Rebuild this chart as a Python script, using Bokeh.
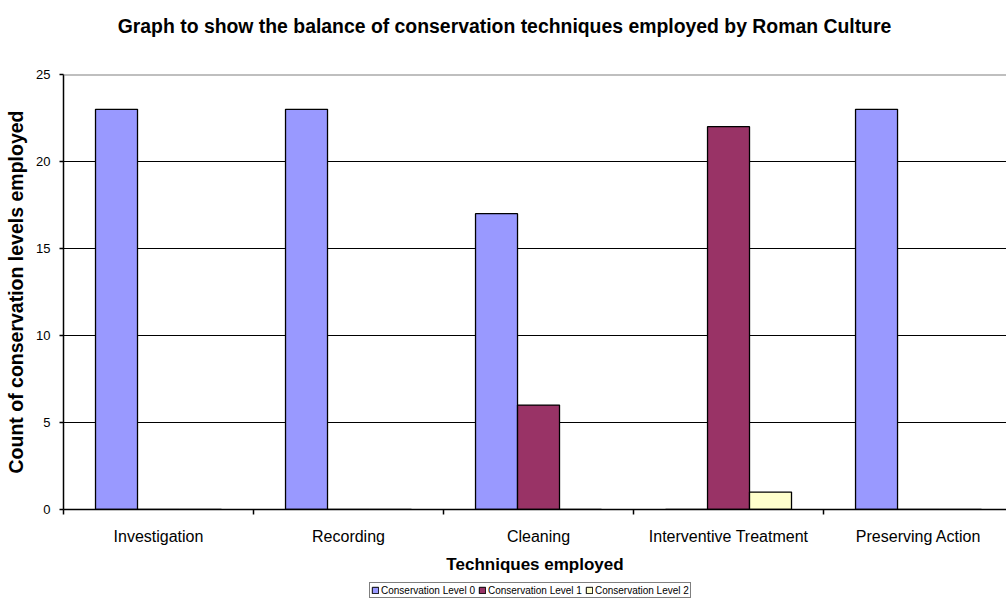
from bokeh.plotting import figure
from bokeh.layouts import column
from bokeh.models import (ColumnDataSource, FixedTicker, Range1d, Span, Legend, LegendItem, Label)
from bokeh.transform import dodge
from bokeh.embed import file_html
from bokeh.resources import INLINE

title_text = "Graph to show the balance of conservation techniques employed by Roman Culture"
categories = ["Investigation", "Recording", "Cleaning", "Interventive Treatment", "Preserving Action"]
level0 = [23, 23, 17, 0, 23]
level1 = [0, 0, 6, 22, 0]
level2 = [0, 0, 0, 1, 0]
series_names = ["Conservation Level 0", "Conservation Level 1", "Conservation Level 2"]
colors = ["#9999FF", "#993366", "#FFFFCC"]
y_ticks = [0, 5, 10, 15, 20, 25]

xpos = [i + 0.5 for i in range(len(categories))]
src = ColumnDataSource(dict(x=xpos, l0=level0, l1=level1, l2=level2))

FONT = "Liberation Sans"
W = 1006
LEFT = 63  # frames of the stacked figures are aligned at this left border


def strip(h):
    f = figure(width=W, height=h, output_backend="svg", toolbar_location=None,
               x_range=Range1d(0, 1), y_range=Range1d(0, 1), min_border=0)
    f.axis.visible = False
    f.grid.visible = False
    f.outline_line_color = None
    f.background_fill_color = "white"
    f.border_fill_color = "white"
    return f


# title strip
tf = strip(40)
tf.add_layout(Label(x=504 - LEFT, y=15, x_units="screen", y_units="screen", text=title_text,
                    text_font=FONT, text_font_size="19.4px", text_font_style="bold",
                    text_color="black", text_align="center", text_baseline="middle"))

p = figure(width=W, height=538, output_backend="svg", toolbar_location=None,
           x_range=Range1d(0, 4.963), y_range=Range1d(0, 25),
           min_border_left=LEFT, min_border_right=0, min_border_top=34, min_border_bottom=69)

p.outline_line_color = None
p.background_fill_color = "white"
p.border_fill_color = "white"

bw = 0.221
r0 = p.vbar(x=dodge("x", -bw, range=p.x_range), top="l0", width=bw, source=src,
            fill_color=colors[0], line_color="black", line_width=1.3)
r1 = p.vbar(x=dodge("x", 0, range=p.x_range), top="l1", width=bw, source=src,
            fill_color=colors[1], line_color="black", line_width=1.3)
r2 = p.vbar(x=dodge("x", bw, range=p.x_range), top="l2", width=bw, source=src,
            fill_color=colors[2], line_color="black", line_width=1.3)

# grid
p.xgrid.visible = False
p.ygrid.ticker = FixedTicker(ticks=y_ticks[1:-1])
p.ygrid.grid_line_color = "black"
p.ygrid.grid_line_width = 1
p.add_layout(Span(location=y_ticks[-1], dimension="width", line_color="#808080", line_width=2))

# x axis
xa = p.xaxis[0]
xa.ticker = FixedTicker(ticks=xpos, minor_ticks=list(range(len(categories) + 1)))
xa.major_label_overrides = {x: c for x, c in zip(xpos, categories)}
xa.major_tick_out = 0
xa.major_tick_in = 0
xa.minor_tick_out = 5
xa.minor_tick_in = 0
xa.minor_tick_line_color = "black"
xa.minor_tick_line_width = 1.5
xa.axis_line_color = "black"
xa.axis_line_width = 1.5
xa.major_label_standoff = 13
xa.major_label_text_font = FONT
xa.major_label_text_font_size = "16px"
xa.major_label_text_color = "black"
xa.axis_label = "Techniques employed"
xa.axis_label_text_font = FONT
xa.axis_label_text_font_size = "17px"
xa.axis_label_text_font_style = "bold"
xa.axis_label_text_color = "black"
xa.axis_label_standoff = 7

# y axis
ya = p.yaxis[0]
ya.ticker = FixedTicker(ticks=y_ticks)
ya.minor_tick_line_color = None
ya.major_tick_out = 4
ya.major_tick_in = 0
ya.major_tick_line_color = "black"
ya.major_tick_line_width = 1.5
ya.axis_line_color = "black"
ya.axis_line_width = 1.5
ya.major_label_standoff = 9
ya.major_label_text_font = FONT
ya.major_label_text_font_size = "13px"
ya.major_label_text_color = "black"
ya.axis_label = "Count of conservation levels employed"
ya.axis_label_text_font = FONT
ya.axis_label_text_font_size = "19.5px"
ya.axis_label_text_font_style = "bold"
ya.axis_label_text_color = "black"
ya.axis_label_standoff = 6

# legend strip below the chart (swatch renderers sit far outside the visible range)
lf = strip(32)
swatch = ColumnDataSource(dict(x=[-10], top=[-10], bottom=[-11]))
lr = [lf.vbar(x="x", top="top", bottom="bottom", width=0.1, source=swatch, fill_color=c,
              line_color="black", line_width=1) for c in colors]
legend = Legend(items=[LegendItem(label=n, renderers=[r]) for n, r in zip(series_names, lr)],
                orientation="horizontal", location=(369 - LEFT, 12),
                label_text_font=FONT, label_text_font_size="10px",
                label_text_color="black",
                glyph_width=8, glyph_height=8, spacing=3, label_standoff=2,
                padding=1, margin=0, border_line_color="black", border_line_width=1,
                label_height=12, background_fill_color="white", background_fill_alpha=1)
lf.add_layout(legend, "center")

layout = column(tf, p, lf, spacing=0)
open("out.html", "w").write(file_html(layout, INLINE))
